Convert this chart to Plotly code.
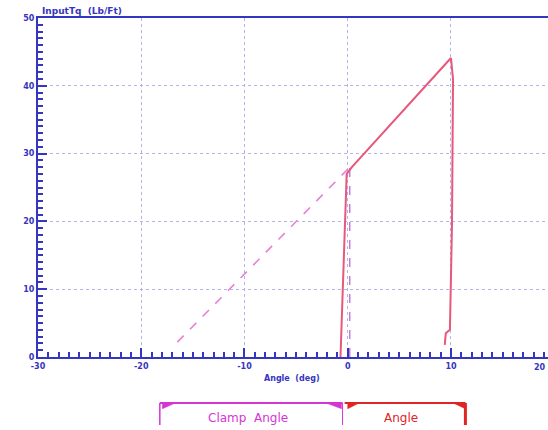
import plotly.graph_objects as go

# ---- data ----
clamp_x = [-16.5, 0.2]
clamp_y = [2.2, 28.0]

zero_x = [0.2, 0.2]
zero_y = [0.0, 28.0]

tq_x = [-0.7, -0.1, 0.4, 10.0, 10.2, 10.1, 9.9, 9.5, 9.4]
tq_y = [0.0, 27.0, 28.0, 44.1, 41.0, 19.5, 4.0, 3.5, 1.8]

x_ticks = [-30, -20, -10, 0, 10]
y_ticks = [0, 10, 20, 30, 40, 50]

clamp_span = [-18.2, -0.5]
angle_span = [-0.3, 11.4]

AX = "#3535c0"
GRID = "#b4b4e8"
MAG = "#d535d5"
RED = "#e02525"

fig = go.Figure()
fig.add_trace(go.Scatter(x=clamp_x, y=clamp_y, mode="lines",
                         line=dict(color="#e880d8", width=1.6, dash="dash"),
                         showlegend=False, hoverinfo="skip"))
fig.add_trace(go.Scatter(x=zero_x, y=zero_y, mode="lines",
                         line=dict(color="#b060d8", width=1.2, dash="dash"),
                         showlegend=False, hoverinfo="skip"))
fig.add_trace(go.Scatter(x=tq_x, y=tq_y, mode="lines",
                         line=dict(color="#e8587a", width=2),
                         showlegend=False, hoverinfo="skip"))

tickfont = dict(family="DejaVu Sans", size=8, color=AX, weight="bold")

fig.update_layout(
    width=548, height=430,
    margin=dict(l=38, r=0, t=18, b=73),
    paper_bgcolor="white", plot_bgcolor="white",
    xaxis=dict(range=[-30, 19.4], tickmode="array", tickvals=x_ticks,
               ticktext=[str(v) for v in x_ticks],
               ticks="inside", ticklen=9, tickwidth=1.5, tickcolor=AX,
               minor=dict(dtick=1, ticks="inside", ticklen=5, tickcolor=AX, showgrid=False),
               showline=True, linecolor=AX, linewidth=2, mirror=True,
               showgrid=True, gridcolor=GRID, griddash="dot", gridwidth=1,
               zeroline=False, tickfont=tickfont, automargin=False),
    yaxis=dict(range=[0, 50], tickmode="array", tickvals=y_ticks,
               ticktext=[str(v) for v in y_ticks],
               ticks="inside", ticklen=9, tickwidth=1.5, tickcolor=AX,
               minor=dict(dtick=1, ticks="inside", ticklen=5, tickcolor=AX, showgrid=False),
               showline=True, linecolor=AX, linewidth=2,
               showgrid=True, gridcolor=GRID, griddash="dot", gridwidth=1,
               zeroline=False, tickfont=tickfont, automargin=False),
)

# labels
fig.add_annotation(text="InputTq  (Lb/Ft)", xref="paper", yref="paper", x=0.003, y=1.0,
                   xanchor="left", yanchor="bottom", showarrow=False,
                   font=dict(family="DejaVu Sans", size=9, color=AX, weight="bold"))
fig.add_annotation(text="Angle  (deg)", xref="x", yref="paper", x=-5.4, y=-0.045,
                   xanchor="center", yanchor="top", showarrow=False,
                   font=dict(family="DejaVu Sans", size=8, color=AX, weight="bold"))
fig.add_annotation(text="20", xref="paper", yref="paper", x=1.0, y=-0.012,
                   xanchor="right", yanchor="top", showarrow=False,
                   font=tickfont)

# brackets
yb_top = -0.1357
yb_bot = -0.2006
fl = 0.017
# clamp bracket (magenta)
c0, c1 = clamp_span
fig.add_shape(type="line", xref="x", yref="paper", x0=c0, x1=c1, y0=yb_top, y1=yb_top,
              line=dict(color=MAG, width=2))
fig.add_shape(type="line", xref="x", yref="paper", x0=c0, x1=c0, y0=yb_top, y1=yb_bot,
              line=dict(color=MAG, width=1.5))
fig.add_shape(type="line", xref="x", yref="paper", x0=c1, x1=c1, y0=yb_top, y1=yb_bot,
              line=dict(color=MAG, width=1))
fig.add_shape(type="path", xref="x", yref="paper",
              path=f"M {c0+0.25} {yb_top} L {c0+1.5} {yb_top} L {c0+0.25} {yb_top-fl} Z",
              fillcolor=MAG, line=dict(color=MAG, width=0.5))
fig.add_shape(type="path", xref="x", yref="paper",
              path=f"M {c1-1.6} {yb_top} L {c1-0.1} {yb_top} L {c1-0.1} {yb_top-fl} Z",
              fillcolor=MAG, line=dict(color=MAG, width=0.5))
fig.add_annotation(text="Clamp  Angle", xref="x", yref="paper", x=(c0 + c1) / 2 - 0.3, y=-0.18,
                   xanchor="center", yanchor="middle", showarrow=False,
                   font=dict(family="DejaVu Sans", size=12, color=MAG))

# angle bracket (red)
a0, a1 = angle_span
fig.add_shape(type="line", xref="x", yref="paper", x0=a0, x1=a1, y0=yb_top, y1=yb_top,
              line=dict(color=RED, width=2))
fig.add_shape(type="line", xref="x", yref="paper", x0=a1, x1=a1, y0=yb_top, y1=yb_bot,
              line=dict(color=RED, width=3))
fig.add_shape(type="path", xref="x", yref="paper",
              path=f"M {a0+0.3} {yb_top} L {a0+1.4} {yb_top} L {a0+0.3} {yb_top-fl} Z",
              fillcolor=RED, line=dict(color=RED, width=0.5))
fig.add_shape(type="path", xref="x", yref="paper",
              path=f"M {a1-1.2} {yb_top} L {a1} {yb_top} L {a1} {yb_top-fl} Z",
              fillcolor=RED, line=dict(color=RED, width=0.5))
fig.add_annotation(text="Angle", xref="x", yref="paper", x=(a0 + a1) / 2 - 0.4, y=-0.18,
                   xanchor="center", yanchor="middle", showarrow=False,
                   font=dict(family="DejaVu Sans", size=12, color=RED))

fig.write_html("out.html", config={"displayModeBar": False},
               post_script="document.body.style.margin='0';document.body.style.overflow='hidden';")
